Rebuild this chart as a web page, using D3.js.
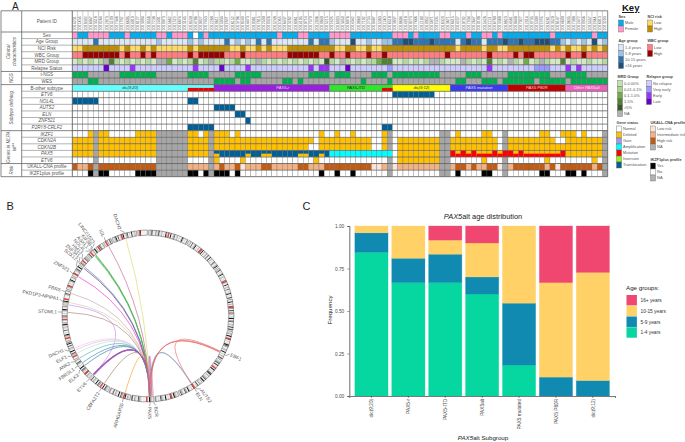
<!DOCTYPE html>
<html><head><meta charset="utf-8">
<style>html,body{margin:0;padding:0;background:#fff}svg{display:block;font-family:"Liberation Sans",Arial,sans-serif}</style>
<script src="https://cdn.jsdelivr.net/npm/d3@7"></script></head><body><svg id="c" width="685" height="442"></svg>
<script>
// ---------- Panel A data ----------
const patientIds = ["2014231","2011456","2018392","2016047","2013518","2019264","2012873","2015190","2017346","2011782","2016605","2014019","2018127","2013994","2010556","2017238","2012401","2019073","2015662","2011319","2016874","2013145","2018530","2014786","2010927","2017453","2012268","2019611","2015034","2011897","2016152","2013706","2018249","2014473","2010381","2017815","2012590","2019326","2015748","2011063","2016437","2013282","2018961","2014105","2010714","2017579","2012036","2019840","2015215","2011628","2016993","2013459","2018076","2014342","2010869","2017102","2012755","2019487","2015383","2011240","2016518","2013837","2018604","2014918","2010273","2017666","2012189","2019052","2015871","2011505","2016329","2013671","2018415","2014257","2010792","2017934","2012647","2019198","2015426","2011113","2016780","2013368","2018823","2014561","2010448","2017027","2012914","2019735","2015309","2011976","2016261","2013520","2018147","2014690","2010635","2017388","2012472","2019956","2015557","2011844","2016013","2013203"];
const sexRow = "PBBPPPPBBB PBBBBBPPBP PPBWBPBBBB BBBBBBBBBP BBBPPBBBBP PPPBBBBBBB BPPPBPBBBB PPBBBPBBPP BPBBBBBBBB BPBBBBBBBP BB";
const ageRow = "aaaacaaaaa aaaaaabaaa aababaaaac ababacacaa aaaaacaccb aaadaabaab bccddcccdc cccacdccac ccdccdccdd dccbababad ab";
const nciRow = "LLHHHHHHHL HLLHLHLLLL LLHLHHHHHH LLHLLHLHLL LHHHHHHHHH LLHHLLHLLH HHHHHHHHHH HHHLHHHHLH HLLHHHHHHH HLHLHLLHLH LH";
const wbcRow = "LLHHHHHHHL HLLHLHLLLL LLHLHHHHHL LLHLLLLLLL LHHHHHHLLH LLHLLLHLLH LLLLLLLLLL LHLLLLLLLH LLLLHLHHLL LLLLHLLHLL LL";
const mrdRow = "121212n421 212121nn31 212412n221 23112n2121 2121212152 1n21212234 41121212nn 2111n21214 121n21312n 2114121121 12";
const relapseRow = "aaaaaadaaa acaaaaaaaa aaacaaaada aaacaaaaaa aaaaacacca aadaaaaaaa baaaaaaaaa aaaaaaaaac aaaaaaaabb baaacacaaa aa";
const tngsRow = "GGGNNNNNNG GGGGGGNNNN NNGGGGNNNN NGGGGGNNNN NNNNNGGGGN GGGNNNNGGG NGGGGGGGGG NNNNNGGGNN NNNGGGGGGG GNNNGGGGNN NN";
const wesRow = "NNNGGNNNNN NNNNNNNNNN NNNNNNNGGG GNGGNNNNNN GGNGNNNNNN NNNNNGNNNN GNNNNNNNNN NNNGGNNNGG GNGGGGGGNG GGGGNGGGGG GG";
const subtypeNames = ["dic(9;20)","PAX5-r","PAX5-ITD","dic(9;12)","PAX5 mutation","PAX5 P80R","Other PAX5alt"];
const subtypeStarts = [0,27,49,61,72,83,94];
const subtypeEnds = [27,49,61,72,83,94,102];
const subtypeFills = ["#66ffff","#9b1fe0","#2fe62f","#ffff00","#3a3af0","#c00000","#ef5fc0"];
const subtypeInk = ["#333","#e9d7ff","#222","#333","#e6e6ff","#f5dcdc","#fbe6f5"];
const subtypeLabelShift = [-13,11,-5,0,0,0,0];
const redStripCols = [22,23,24,25,26,59,60];
const etv6Cols = [61,62,63,64,65,66,67,68];
const nol4lCols = [0,1,2,3,4,22,23];
const auts2Cols = [27,28,29,30];
const elnCols = [31,32];
const znf521Cols = [33];
const crlf2Cols = [22,23,24,25,26,59,60];
const naCols = [4,16,17,18,19,20,21,26,60,70,71,82,101];
const ikzf1Del = [3,5,6,12,13,14,15,22,23,25,27,28,29,31,47,50,53,59,73,78,79,89,90,93,94,95,97];
const cdkn2aNormal = [46,57,58,61,81,92,93];
const cdkn2bNormal = [45,46,57,58,61,81];
const pax5Row = "DDDDNDDDDD DDDDDDNNNN NNDDDDNhTT TTThTThhTT TTThhTThTA AAAAAAAAAA AWDDDDDDDD NNRrRrRrrr RrRRrRrrrr rrrRDDDDDD DN";
const etv6Del = [27,32,46,62,63,64,65,66,67,68,69,78,90,99];
const ukallRow = "HIIHNHHHHH HHHHHHNNNN NNIIIINIHI IHLIIIHHII IIIHHIIIHH HHHHHHHLLI NLIIIIIIII NNIHHIHIIH HLNIHHHHHH IHLHHHHHHI HN";
const ikzfPlusYes = [3,5,6,12,13,14,15,22,23,25,27,28,29,31,47,50,53,73,78,79,89,90,94,95,97];
const rowLabels = ["Sex","Age Group","NCI Risk","WBC Group","MRD Group","Relapse Status","t-NGS","WES","B-other subtype","ETV6","NOL4L","AUTS2","ELN","ZNF521","P2RY8-CRLF2","IKZF1","CDKN2A","CDKN2B","PAX5","ETV6","UKALL-CNA profile","IKZF1plus profile"];
const italicRows = ["ETV6","NOL4L","AUTS2","ELN","ZNF521","P2RY8-CRLF2","IKZF1","CDKN2A","CDKN2B","PAX5"];
const groupNames = [["Clinical","characteristics"],["NGS"],["Subtype defining"],["Genes in MLPA","kit**"],["Risk"]];
const groupFirst = [0,6,8,15,20];
const groupLast = [6,8,15,20,22];

// ---------- Panel A colours ----------
const sexFill = {P:"#ff99cc",B:"#00aeef",W:"#ffffff"};
const ageFill = {a:"#dbe8f5",b:"#9dc3e6",c:"#2e75b6",d:"#1f4e79"};
const nciFill = {L:"#ffd966",H:"#bf8f00"};
const wbcFill = {L:"#ff7c80",H:"#990000"};
const mrdFill = {"1":"#d5e8c4","2":"#b7d7a0","3":"#70ad47","4":"#548235","5":"#385723",n:"#b2b2b2"};
const relapseFill = {a:"#ccccff",b:"#9999ff",c:"#9933ff",d:"#6600cc"};
const seqFill = {G:"#00b050",N:"#a6a6a6"};
const geneFill = {D:"#ffc000",N:"#a6a6a6",T:"#005f96",A:"#00ffff",W:"#ffffff",R:"#ff0000"};
const ukallFill = {L:"#fbe5d6",I:"#f4b183",H:"#c55a11",N:"#a6a6a6"};

// ---------- Key ----------
const keyBlocks = [
 {t:"Sex",x:618.5,ty:17.5,y0:20,names:["Male","Female"],fills:["#00aeef","#ff99cc"]},
 {t:"NCI risk",x:647.5,ty:17.5,y0:20,names:["Low","High"],fills:["#ffd966","#bf8f00"]},
 {t:"Age group",x:618.5,ty:42,y0:44.5,names:["1-4 years","5-9 years","10-15 years",">16 years"],fills:["#dbe8f5","#9dc3e6","#2e75b6","#1f4e79"]},
 {t:"WBC group",x:647.5,ty:42,y0:44.5,names:["Low","High"],fills:["#ff7c80","#990000"]},
 {t:"MRD Group",x:617.5,ty:78,y0:80.5,names:["0-0.00%","0.01-0.1%","0.1-1.0%","1-5%",">5%","NA"],fills:["#c5e0b4","#a9d18e","#70ad47","#548235","#385723","#b2b2b2"]},
 {t:"Relapse group",x:646.5,ty:78,y0:80.5,names:["No relapse","Very early","Early","Late"],fills:["#ccccff","#9999ff","#9933ff","#6600cc"]},
 {t:"Gene status",x:616.5,ty:124,y0:126,names:["Normal","Deleted","Gain","Amplification","Mutation","Inversion","Translocation"],fills:["#ffffff","#ffc000","#9999ee","#00ffff","#ff0000","#99ee22","#005f96"]},
 {t:"UKALL-CNA profile",x:650.5,ty:124,y0:126,names:["Low risk","Intermediate risk","High risk","NA"],fills:["#fbe5d6","#f4b183","#c55a11","#b2b2b2"]},
 {t:"IKZF1plus profile",x:650.5,ty:161,y0:163,names:["Yes","No","NA"],fills:["#000000","#ffffff","#b2b2b2"]}
];

// ---------- Panel B data ----------
const chromNames = ["1","2","3","4","5","6","7","8","9","10","11","12","13","14","15","16","17","18","19","20","21","22","X","Y"];
const chromMb = [249,243,198,191,181,171,159,146,141,136,135,134,115,107,103,90,81,78,59,63,48,51,155,59];
const centroMb = [125,93,91,50,48,61,60,44,45,40,54,36,18,17,19,37,24,17,26,28,13,14,60,12];
const chromBands = [
"wlgkwlwdwgkwlgwlwkgwlwkwlgdwlgwlwlkgwlwg","wlgwdwlgkwlwgwdwlkwgwlgwdlwkwgwlwdgwlgkw","wgdwlwgkwlgwlwdwglwkwlgwdwlwgkwlwd","wlkwgwdlgwkwdgwlwkwgdwlgwkwd","wlgwkwgdwlwlkdgwlgwkwlwgwd","wlgdwkwlgwkwlwdkwgwlgdwk","wlgwdlwgkwlwlkwgdwlgdw","wlgkwgdwlwkwlgdwlwg","wlgkwlwwwwlgdwlgwd","wlgwkwlgdwkwlgwdlwg","wlgdwkwlwgdwkwlgwdw","wlgwkwlgdwkwlwgdwl","wwwlgdwkwlgwdwkg","wwwlgkwlwdwlgwk","wwwlgdwlwgkwl","wlgkwlwwwgdwl","wlgdwlwgkwl","wlkwlgdwkw","wdgwlwwdgl","wgdwlwlgwk","wwldgwl","wwlgwdl","wlgkwdwlgwkwlgdwlwkwlgw","wlkwwwwww"];
const linkR = 80;
const genes = ["DACH2","IGL","LINC01523","KIF3B","ASXL1","NOL4L","HM13","ZNF341","SOX12","ZNF521","FBRS","PKD1P3-NPIPA1","STOML1","DACH1","ELF1","ANK2","FBRSL1","ELK3","ETV6","CBFA2T2","ARHGAP26","PAX5","BCR","ELN","AUTS2","EBF1"];
const geneRingAngle = [344,330.6,320,319.3,318.6,318,311,307.7,305,299.5,286.4,279.8,272.6,246.4,242.4,238.4,234.5,231.6,223,212.9,196.6,178.6,176,147.2,146.4,116.8];
const geneLabelAngle = [342,331,323.5,321,318.5,316,313.5,311,308.5,300,286.5,281,272.6,248,243.5,239,234.5,230,223,212.9,196.6,179,175,147.5,144,115];
const linkFrom = [344,330.6,319.6,319,318.4,307.7,306.6,299.5,286.4,279.8,277.9,272.6,246.4,244.8,242.4,238.4,234.5,232,223.4,223,222.6,222.2,212.9,196.6,177.2,176.2,147,147.4,116.8,116.2,116];
const linkTo = [178.4,178.8,178.9,178.7,179.1,178.6,178.9,178.5,178.7,178.6,223,178.4,178.5,178.7,178.5,178.6,178.4,178.7,178.2,178.5,178.8,179.1,178.6,178.6,178.9,178.7,177.2,178.2,179,178.4,147.4];
const linkCols = ["#dcdc78","#cc6f92","#44b34a","#2f9a36","#66c266","#6a6af0","#555555","#f23cc8","#c6aeb0","#dccfa8","#c493f2","#b58888","#f2c6ea","#d9c2e6","#bfe3d8","#63b3b8","#3f93ab","#4a7aa3","#8a2ba8","#9a3bb4","#7d2598","#b07ac8","#a68a68","#f5ab38","#9a6ea8","#d78ac0","#e86e6e","#55c3f0","#e04a4a","#e66a6a","#ea7a7a"];

// ---------- Panel C data ----------
const subgroups = ["dic(9;20)","PAX5-r","PAX5-ITD","PAX5alt","PAX5 mutated","PAX5 P80R","dic(9;12)"];
const age1to4 = [0.845,0.667,0.667,0.6,0.182,0,0];
const age5to9 = [0.115,0.143,0.167,0.1,0.364,0.111,0.091];
const age10to15 = [0.04,0.19,0.083,0.2,0.454,0.556,0.636];
const age16plus = [0,0,0.083,0.1,0,0.333,0.273];
const ageLabels = ["1-4 years","5-9 years","10-15 years","16+ years"];
const ageColours = ["#06d6a0","#118ab2","#ffd166","#ef476f"];
const freqTicks = [0,0.25,0.5,0.75,1];

const svg = d3.select("#c");
const clean = s => s.replace(/ /g,"");

// ================= PANEL A =================
const gridX = d3.scaleBand().domain(d3.range(patientIds.length)).range([72.3,607.7]);
const rowIdx = d3.range(rowLabels.length);
const gridY = d3.scaleBand().domain(rowIdx).range([32,176.7]);
const cw = gridX.bandwidth(), rh = gridY.bandwidth();
const A = svg.append("g");
const lineC = "#666666";

function colsToRow(list, on, off){const s=new Set(list);return d3.range(patientIds.length).map(i=>s.has(i)?on:off);}
function geneCols(list,on){const s=new Set(list),na=new Set(naCols);return d3.range(patientIds.length).map(i=>na.has(i)?"#a6a6a6":s.has(i)?on:"#ffffff");}
function invGeneCols(list,on){const s=new Set(list),na=new Set(naCols);return d3.range(patientIds.length).map(i=>na.has(i)?"#a6a6a6":s.has(i)?"#ffffff":on);}
const mapRow=(str,map)=>Array.from(clean(str)).map(c=>map[c]);
const rowColours = {
 0:mapRow(sexRow,sexFill),1:mapRow(ageRow,ageFill),2:mapRow(nciRow,nciFill),3:mapRow(wbcRow,wbcFill),
 4:mapRow(mrdRow,mrdFill),5:mapRow(relapseRow,relapseFill),6:mapRow(tngsRow,seqFill),7:mapRow(wesRow,seqFill),
 9:colsToRow(etv6Cols,"#005f96","#fff"),10:colsToRow(nol4lCols,"#005f96","#fff"),11:colsToRow(auts2Cols,"#005f96","#fff"),
 12:colsToRow(elnCols,"#005f96","#fff"),13:colsToRow(znf521Cols,"#005f96","#fff"),14:colsToRow(crlf2Cols,"#005f96","#fff"),
 15:geneCols(ikzf1Del,"#ffc000"),16:invGeneCols(cdkn2aNormal,"#ffc000"),17:invGeneCols(cdkn2bNormal,"#ffc000"),
 19:geneCols(etv6Del,"#ffc000"),20:mapRow(ukallRow,ukallFill),21:geneCols(ikzfPlusYes,"#000000")
};
A.append("rect").attr("x",1).attr("y",10.8).attr("width",606.7).attr("height",165.9).attr("fill","#fff");
Object.keys(rowColours).forEach(r=>{
  A.append("g").selectAll("rect").data(rowColours[r]).join("rect")
   .attr("x",(d,i)=>gridX(i)).attr("y",gridY(+r)).attr("width",cw).attr("height",rh)
   .attr("fill",d=>d).attr("stroke",lineC).attr("stroke-width",0.3);
});
// PAX5 row with split cells
const pax5 = Array.from(clean(pax5Row));
const pg = A.append("g");
pg.selectAll("rect.top").data(pax5).join("rect").attr("class","top")
  .attr("x",(d,i)=>gridX(i)).attr("y",gridY(18)).attr("width",cw).attr("height",rh)
  .attr("fill",d=>d==="h"?"#005f96":d==="r"?"#ffc000":geneFill[d]).attr("stroke",lineC).attr("stroke-width",0.3);
pg.selectAll("rect.bot").data(pax5.map((d,i)=>({d,i})).filter(o=>o.d==="h"||o.d==="r")).join("rect").attr("class","bot")
  .attr("x",o=>gridX(o.i)).attr("y",gridY(18)+rh/2).attr("width",cw).attr("height",rh/2)
  .attr("fill",o=>o.d==="h"?"#ffc000":"#ff0000");
// subtype band
const bandG = A.append("g");
subtypeNames.forEach((n,k)=>{
  const x0=gridX(subtypeStarts[k]), x1=gridX(subtypeEnds[k]-1)+cw;
  bandG.append("rect").attr("x",x0).attr("y",gridY(8)).attr("width",x1-x0).attr("height",rh).attr("fill",subtypeFills[k]).attr("stroke",lineC).attr("stroke-width",0.3);
});
bandG.selectAll("rect.s").data(redStripCols).join("rect").attr("class","s")
  .attr("x",c=>gridX(c)).attr("y",gridY(8)+rh/2).attr("width",cw+0.1).attr("height",rh/2).attr("fill","#f00000");
subtypeNames.forEach((n,k)=>{
  const x0=gridX(subtypeStarts[k]), x1=gridX(subtypeEnds[k]-1)+cw;
  bandG.append("text").attr("x",(x0+x1)/2+subtypeLabelShift[k]).attr("y",gridY(8)+rh/2+1.4).attr("text-anchor","middle")
   .attr("font-size",4.1).attr("font-style","italic").attr("fill",subtypeInk[k]).text(n);
});
// frame and divider lines
const hLines = [10.8,176.7];
rowIdx.forEach(r=>{const y=gridY(r);
  A.append("line").attr("x1",groupFirst.includes(r)?1:21.7).attr("x2",607.7).attr("y1",y).attr("y2",y).attr("stroke",lineC).attr("stroke-width",groupFirst.includes(r)?0.8:0.5);
});
hLines.forEach(y=>A.append("line").attr("x1",1).attr("x2",607.7).attr("y1",y).attr("y2",y).attr("stroke",lineC).attr("stroke-width",0.8));
[1,21.7,72.3,607.7].forEach(x=>A.append("line").attr("x1",x).attr("x2",x).attr("y1",10.8).attr("y2",176.7).attr("stroke",lineC).attr("stroke-width",0.8));
// header IDs
A.append("g").selectAll("line").data(patientIds).join("line")
 .attr("x1",(d,i)=>gridX(i)).attr("x2",(d,i)=>gridX(i)).attr("y1",10.8).attr("y2",32).attr("stroke","#777").attr("stroke-width",0.35);
A.append("g").selectAll("text").data(patientIds).join("text")
 .attr("transform",(d,i)=>`translate(${gridX(i)+cw/2+1.3},30.5) rotate(-90)`)
 .attr("font-size",3.7).attr("fill","#555").text(d=>d);
A.append("text").attr("x",46.8).attr("y",22.5).attr("text-anchor","middle").attr("font-size",4.6).attr("fill","#555").text("Patient ID");
A.append("g").selectAll("text").data(rowLabels).join("text")
 .attr("x",46.8).attr("y",(d,i)=>gridY(i)+rh/2+1.6).attr("text-anchor","middle").attr("font-size",4.6)
 .attr("font-style",d=>italicRows.includes(d)?"italic":"normal").attr("fill","#555").text(d=>d);
groupNames.forEach((lines,k)=>{
  const cy=(gridY(groupFirst[k])+ (groupLast[k]<22?gridY(groupLast[k]):176.7))/2;
  lines.forEach((l,j)=>{
    const x=11.5+(j-(lines.length-1)/2)*5.6+1.5;
    A.append("text").attr("transform",`translate(${x},${cy}) rotate(-90)`).attr("text-anchor","middle")
     .attr("font-size",4.5).attr("font-style","italic").attr("fill","#555").text(l);
  });
});
svg.append("text").attr("x",12).attr("y",9.5).attr("font-size",10).attr("fill","#222").text("A");
svg.append("text").attr("x",6.5).attr("y",210).attr("font-size",11).attr("fill","#222").text("B");
svg.append("text").attr("x",302.5).attr("y",210).attr("font-size",11).attr("fill","#222").text("C");

// Key
svg.append("text").attr("x",622).attr("y",11).attr("font-size",9.5).attr("font-weight","bold").attr("text-decoration","underline").attr("fill","#111").text("Key");
keyBlocks.forEach(b=>{
  const g=svg.append("g");
  g.append("text").attr("x",b.x).attr("y",b.ty).attr("font-size",3.8).attr("font-weight","bold").attr("fill","#444").text(b.t);
  const yy=d3.scaleBand().domain(d3.range(b.names.length)).range([b.y0,b.y0+6*b.names.length]);
  g.selectAll("rect").data(b.fills).join("rect").attr("x",b.x).attr("y",(d,i)=>yy(i)).attr("width",5).attr("height",6)
    .attr("fill",d=>d).attr("stroke","#666").attr("stroke-width",0.4);
  g.selectAll("text.l").data(b.names).join("text").attr("class","l").attr("x",b.x+6.6).attr("y",(d,i)=>yy(i)+4.2)
    .attr("font-size",3.9).attr("fill","#555").text(d=>d);
});

// ================= PANEL B =================
const cx=148, cy=316, ringOut=86, ringIn=80.8;
const B=svg.append("g").attr("transform",`translate(${cx},${cy})`);
const gapDeg=0.9;
const totalMb=d3.sum(chromMb);
const degPerMb=d3.scaleLinear().domain([0,totalMb]).range([0,360-gapDeg*chromMb.length]);
const bandCol={w:"#f0f0f0",l:"#d4d4d4",g:"#a8a8a8",d:"#606060",k:"#1a1a1a"};
const arc=d3.arc().innerRadius(ringIn).outerRadius(ringOut);
const rad=a=>a*Math.PI/180;
let cum=0;
chromMb.forEach((mb,k)=>{
  const a0=gapDeg*k+gapDeg/2+degPerMb(cum), a1=a0+degPerMb(mb);
  const s=chromBands[k], bw=(a1-a0)/s.length;
  const g=B.append("g");
  g.selectAll("path").data(Array.from(s)).join("path")
   .attr("d",(c,i)=>arc({startAngle:rad(a0+i*bw),endAngle:rad(a0+(i+1)*bw)}))
   .attr("fill",c=>bandCol[c]);
  const ca=a0+degPerMb(centroMb[k]);
  g.append("path").attr("d",arc({startAngle:rad(ca-0.5),endAngle:rad(ca+0.5)})).attr("fill","#e8403a");
  g.append("path").attr("d",arc({startAngle:rad(a0),endAngle:rad(a1)})).attr("fill","none").attr("stroke","#555").attr("stroke-width",0.5);
  cum+=mb;
});
const polar=(a,r)=>[r*Math.sin(rad(a)),-r*Math.cos(rad(a))];
linkFrom.forEach((a,i)=>{
  const p=d3.path(), s=polar(a,linkR), t=polar(linkTo[i],linkR);
  p.moveTo(s[0],s[1]); p.quadraticCurveTo(0,0,t[0],t[1]);
  B.append("path").attr("d",p.toString()).attr("fill","none").attr("stroke",linkCols[i]).attr("stroke-width",0.7);
});
genes.forEach((g,i)=>{
  const ra=geneRingAngle[i], la=geneLabelAngle[i];
  const p0=polar(ra,ringOut), p1=polar(ra,ringOut+1.5), p2=polar(la,ringOut+4), pt=polar(la,ringOut+5);
  B.append("path").attr("d",d3.line()([p0,p1,p2])).attr("fill","none").attr("stroke","#333").attr("stroke-width",0.4);
  const left=la>180.2;
  const rot=left?la-270:la-90;
  B.append("text").attr("transform",`translate(${pt[0]},${pt[1]}) rotate(${rot})`)
   .attr("text-anchor",left?"end":"start").attr("dy","0.35em").attr("font-size",4.8).attr("fill","#555").text(g);
});

// ================= PANEL C =================
const C=svg.append("g");
const cL=349.3,cR=615,cT=226,cB=396;
const bx=d3.scaleBand().domain(subgroups).range([cL,cR]).paddingInner(0.1).paddingOuter(0.15);
const by=d3.scaleLinear().domain([0,1]).range([cB,cT]);
const table=subgroups.map((s,i)=>({s,a:age1to4[i],b:age5to9[i],c:age10to15[i],d:age16plus[i]}));
const series=d3.stack().keys(["a","b","c","d"])(table);
series.forEach((ser,k)=>{
  C.append("g").selectAll("rect").data(ser.filter(d=>d[1]-d[0]>0)).join("rect")
   .attr("x",d=>bx(d.data.s)).attr("y",d=>by(d[1])).attr("width",bx.bandwidth()).attr("height",d=>by(d[0])-by(d[1]))
   .attr("fill",ageColours[k]).attr("stroke",ageColours[k]).attr("stroke-opacity",0.35).attr("stroke-width",0.8);
});
const yAx=C.append("g").attr("transform",`translate(${cL},0)`).call(d3.axisLeft(by).tickValues(freqTicks).tickFormat(d3.format(".2f")).tickSize(2));
yAx.selectAll("text").attr("font-size",4.8).attr("fill","#4d4d4d").attr("font-family","inherit");
yAx.selectAll(".tick line").attr("stroke","#333").attr("stroke-width",0.5);
yAx.select(".domain").attr("stroke","#7a7a7a").attr("stroke-width",1.1);
const xAx=C.append("g").attr("transform",`translate(0,${cB})`).call(d3.axisBottom(bx).tickSize(2));
xAx.selectAll("text").attr("font-size",4.8).attr("fill","#4d4d4d").attr("font-family","inherit")
  .attr("transform","rotate(-90)").attr("text-anchor","end").attr("x",-2.8).attr("y",0).attr("dy","0.35em");
xAx.selectAll(".tick line").attr("stroke","#333").attr("stroke-width",0.5);
xAx.select(".domain").attr("stroke","#7a7a7a").attr("stroke-width",1.1);
const t1=C.append("text").attr("x",483).attr("y",219).attr("text-anchor","middle").attr("font-size",7.4).attr("fill","#222");
t1.append("tspan").attr("font-style","italic").text("PAX5");t1.append("tspan").text("alt age distribution");
const t2=C.append("text").attr("x",483).attr("y",440).attr("text-anchor","middle").attr("font-size",6.2).attr("fill","#222");
t2.append("tspan").attr("font-style","italic").text("PAX5");t2.append("tspan").text("alt Subgroup");
C.append("text").attr("transform","translate(332,310) rotate(-90)").attr("text-anchor","middle").attr("font-size",6.2).attr("fill","#222").text("Frequency");
C.append("text").attr("x",626).attr("y",290).attr("font-size",6.2).attr("fill","#222").text("Age groups:");
const legY=d3.scaleBand().domain([3,2,1,0]).range([295,338]);
const legG=C.append("g");
legG.selectAll("rect").data([3,2,1,0]).join("rect").attr("x",626.5).attr("y",d=>legY(d)).attr("width",10.4).attr("height",legY.bandwidth()-0.3).attr("fill",d=>ageColours[d]);
legG.selectAll("text").data([3,2,1,0]).join("text").attr("x",640.5).attr("y",d=>legY(d)+legY.bandwidth()/2+1.7).attr("font-size",4.8).attr("fill","#333").text(d=>ageLabels[d]);
</script></body></html>
